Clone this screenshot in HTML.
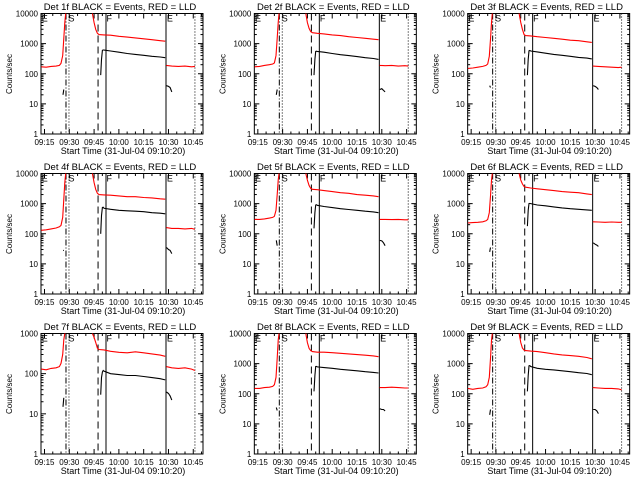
<!DOCTYPE html>
<html><head><meta charset="utf-8"><style>
html,body{margin:0;padding:0;background:#fff}
svg{display:block}
text{font-family:"Liberation Sans",sans-serif;fill:#000}
</style></head><body>
<svg id="chart" width="640" height="480" viewBox="0 0 640 480" xmlns="http://www.w3.org/2000/svg"></svg>
<script>
// Time axis in minutes after 09:00
const xTickLabels = ["09:15","09:30","09:45","10:00","10:15","10:30","10:45"];
const xTickMinutes = [15,30,45,60,75,90,105];
const eventMinutes = [28,29.8,47.4,52.2,88.5,106];
const eventStyles = ["dashdot","dotted","dashed","solid","solid","dotted"];
const detectors = ["1f","2f","3f","4f","5f","6f","7f","8f","9f"];
const yMax = [10000,10000,10000,10000,10000,10000,1000,10000,10000];

const redPreT = [13,16,19,22,24,25,26,26.7,27.3,27.8];
const redMainT = [44,45,46,47,48,51,55,60,65,70,75,80,85,88];
const redPostT = [88.6,92,96,100,104,106];
const blkPreT = [26.2,26.7];
const blkMainT = [49,49.5,50,50.5,51,55,60,65,70,75,80,85,88];
const blkPostT = [88.8,90,91,92];

const redPre = [
 [170,165,175,180,190,220,400,1500,5000,10000],
 [170,175,190,200,210,230,400,1500,5000,10000],
 [150,155,165,175,190,210,380,1400,5000,10000],
 [130,135,145,155,170,190,350,1400,5000,10000],
 [300,300,310,330,350,380,600,2000,6000,10000],
 [230,235,240,250,270,300,500,1800,6000,10000],
 [130,125,135,140,150,180,300,700,1000,1000],
 [150,150,160,165,175,200,350,1500,6000,10000],
 [150,140,150,155,170,200,350,1500,6000,10000]];
const redMain = [
 [10000,5000,3000,2200,2000,1950,1900,1750,1650,1550,1450,1350,1250,1200],
 [10000,5000,3200,2500,2300,2200,2100,1950,1850,1700,1600,1500,1400,1350],
 [10000,5000,3000,2000,1850,1800,1700,1600,1500,1400,1300,1250,1150,1100],
 [10000,5000,3000,2200,2000,1950,1900,1800,1700,1700,1600,1550,1450,1400],
 [10000,6000,4000,3200,3000,2900,2700,2500,2300,2200,2000,1900,1800,1700],
 [10000,6000,4500,3700,3500,3300,3100,2900,2700,2500,2400,2300,2100,2000],
 [1000,800,600,430,400,390,360,340,330,350,330,310,290,270],
 [10000,5000,3200,2700,2500,2400,2400,2300,2200,2100,2000,1900,1800,1700],
 [10000,5000,3300,2800,2700,2600,2500,2300,2100,1950,1850,1750,1600,1450]];
const redPost = [
 [190,180,175,180,170,175],
 [190,185,190,180,185,180],
 [180,175,170,165,160,165],
 [160,150,150,145,150,140],
 [300,300,295,300,290,290],
 [250,245,240,245,240,240],
 [150,140,135,140,130,120],
 [160,160,165,160,155,155],
 [160,155,150,150,145,135]];
const blkPre = [[20,30],[20,30],[40,35],[28,28],[60,40],[25,35],[15,25],[35,28],[20,30]];
const blkMain = [
 [90,300,600,620,610,570,520,470,440,410,380,360,340],
 [90,300,550,560,550,520,470,430,400,370,340,320,300],
 [90,300,580,590,570,530,480,440,410,380,350,330,310],
 [100,400,750,760,700,650,600,580,560,540,500,480,460],
 [150,500,900,920,880,800,740,680,640,600,560,530,500],
 [180,600,1000,1020,1000,900,850,780,720,680,650,620,600],
 [30,80,110,120,115,100,95,90,90,85,80,75,70],
 [120,400,800,810,780,740,700,650,610,580,540,510,490],
 [120,400,850,860,800,700,650,620,580,540,500,470,430]];
const blkPost = [[40,38,35,25],[30,32,28,25],[40,38,35,30],[35,30,28,22],[60,58,50,40],[50,45,42,38],[35,32,28,22],[32,30,30,27],[30,30,27,22]];

const NS="http://www.w3.org/2000/svg";
const svg=document.getElementById('chart');
function mk(tag,attrs,parent){const e=document.createElementNS(NS,tag);for(const k in attrs)e.setAttribute(k,attrs[k]);(parent||svg).appendChild(e);return e;}

for(let p=0;p<9;p++){
  const ox=(p%3)*213.33, oy=Math.floor(p/3)*160;
  const L=ox+41,R=ox+203,T=oy+13.5,B=oy+134;
  const ym=yMax[p];
  const xs=t=>L+3.5+(t-15)*1.653;
  const ys=v=>B-Math.log10(Math.max(v,1))/Math.log10(ym)*(B-T);
  const g=mk('g',{});
  
  
  const cid='clip'+p;
  const cp=mk('clipPath',{id:cid},g);mk('rect',{x:L,y:T,width:R-L,height:B-T},cp);
  const box=mk('rect',{x:L,y:T,width:R-L,height:B-T,fill:'none',stroke:'#000','stroke-width':1},g);
  
  
  const ti=mk('text',{x:ox+120,y:oy+10,'font-size':'9.5','text-anchor':'middle'},g);
  ti.textContent='Det '+detectors[p]+' BLACK = Events, RED = LLD';
  
  
  const decades=Math.round(Math.log10(ym));
  for(let d=0;d<=decades;d++){
    const y=ys(Math.pow(10,d));
    mk('line',{x1:L,x2:L+5,y1:y,y2:y,stroke:'#000'},g);
    mk('line',{x1:R,x2:R-5,y1:y,y2:y,stroke:'#000'},g);
    const lb=mk('text',{x:L-3,y:y+3,'font-size':'8','text-anchor':'end'},g);
    lb.textContent=String(Math.pow(10,d));
    
    
    if(d<decades)for(let m=2;m<10;m++){const yy=ys(m*Math.pow(10,d));
      mk('line',{x1:L,x2:L+2.5,y1:yy,y2:yy,stroke:'#000'},g);
      mk('line',{x1:R,x2:R-2.5,y1:yy,y2:yy,stroke:'#000'},g);}
  }
  const yt=mk('text',{x:0,y:0,'font-size':'8','text-anchor':'middle',transform:`translate(${ox+12},${oy+74}) rotate(-90)`},g);
  yt.textContent='Counts/sec';
  
  
  for(let t=15;t<=110;t+=5){const x=xs(t);if(x>R)break;const maj=xTickMinutes.includes(t);
    mk('line',{x1:x,x2:x,y1:B,y2:B-(maj?5:2.5),stroke:'#000'},g);
    mk('line',{x1:x,x2:x,y1:T,y2:T+(maj?5:2.5),stroke:'#000'},g);}
  xTickLabels.forEach((s,i)=>{const lb=mk('text',{x:xs(xTickMinutes[i]),y:B+11,'font-size':'8','text-anchor':'middle'},g);
    lb.textContent=s;
    
    });
  const xt=mk('text',{x:ox+123,y:oy+154,'font-size':'9','text-anchor':'middle'},g);
  xt.textContent='Start Time (31-Jul-04 09:10:20)';
  
  
  const dash={dashdot:'6,2,1,2',dotted:'1,2',dashed:'7,4',solid:'none'};
  eventMinutes.forEach((t,i)=>{const x=xs(t);
    const ln=mk('line',{x1:x,x2:x,y1:T,y2:B,stroke:'#000','stroke-dasharray':dash[eventStyles[i]]},g);
    
    });
  [[xs(13.3),'E'],[xs(29.5),'S'],[xs(52.5),'F'],[xs(89),'E']].forEach(([x,s])=>{
    const m=mk('text',{x:x,y:T+8,'font-size':'9'},g);m.textContent=s;
    
    });
  const cg=mk('g',{'clip-path':`url(#${cid})`},g);
  function series(ts,vs,color,name){
    const pts=ts.map((t,i)=>xs(t).toFixed(1)+','+ys(vs[i]).toFixed(1)).join(' ');
    const pl=mk('polyline',{points:pts,fill:'none',stroke:color,'stroke-width':1.1},cg);
    
    
  }
  series(redPreT,redPre[p],'#f00','lld-pre-series');
  series(redMainT,redMain[p],'#f00','lld-main-series');
  series(redPostT,redPost[p],'#f00','lld-post-series');
  series(blkPreT,blkPre[p],'#000','events-pre-series');
  series(blkMainT,blkMain[p],'#000','events-main-series');
  series(blkPostT,blkPost[p],'#000','events-post-series');
}
</script>
</body></html>
